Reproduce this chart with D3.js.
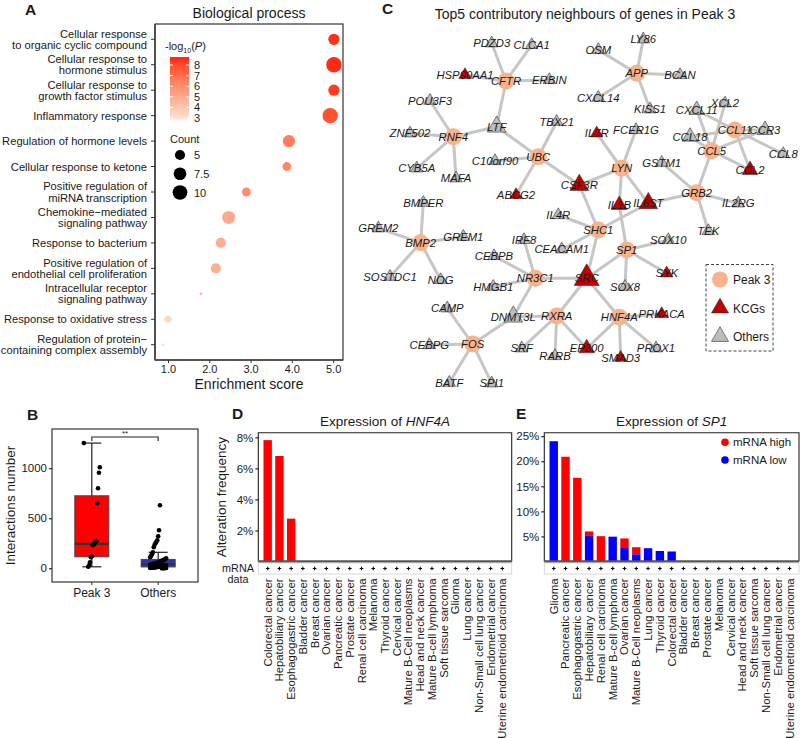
<!DOCTYPE html>
<html><head><meta charset="utf-8">
<script src="https://cdn.jsdelivr.net/npm/d3@7"></script>
<style>
body{margin:0;background:#fff}
svg{display:block}
text{font-family:"Liberation Sans",Arial,Helvetica,sans-serif;fill:#1a1a1a}
</style></head>
<body><svg id="c" width="800" height="738"></svg>
<script>
// ================= DATA =================
// Panel A : GO Biological process
const bpTerms = [
  "Cellular response\nto organic cyclic compound",
  "Cellular response to\nhormone stimulus",
  "Cellular response to\ngrowth factor stimulus",
  "Inflammatory response",
  "Regulation of hormone levels",
  "Cellular response to ketone",
  "Positive regulation of\nmiRNA transcription",
  "Chemokine\u2212mediated\nsignaling pathway",
  "Response to bacterium",
  "Positive regulation of\nendothelial cell proliferation",
  "Intracellular receptor\nsignaling pathway",
  "Response to oxidative stress",
  "Regulation of protein\u2212\ncontaining complex assembly"
];
const bpEnrichment = [5.02, 5.02, 5.02, 4.93, 3.93, 3.88, 2.90, 2.47, 2.28, 2.16, 1.80, 1.00, 0.88];
const bpCount      = [6, 11, 6, 11, 7, 4, 4, 8, 5, 5, 2, 3, 2];
const bpLogP       = [8.5, 8.6, 8.3, 7.8, 6.5, 6.2, 6.0, 5.0, 4.9, 4.8, 4.4, 3.3, 3.0];
const bpLogPTicks  = [3, 4, 5, 6, 7, 8];
const bpCountTicks = [5, 7.5, 10];
const bpXTicks     = [1, 2, 3, 4, 5];

// Panel B : interactions number
const boxGroups = ["Peak 3", "Others"];
const peak3Interactions = [1252, 1010, 955, 800, 650, 270, 262, 244, 240, 232, 120, 110, 60, 30, 15];
const otherInteractions = [630, 380, 320, 280, 265, 250, 235, 210, 160, 140, 125, 110, 100, 92, 88, 82, 78, 75, 70, 66,
  62, 58, 55, 52, 50, 48, 45, 42, 40, 38, 35, 33, 30, 28, 26, 24, 22, 20, 18, 16, 15, 14, 12, 10, 9, 8, 7, 6, 5, 4, 3, 3, 2, 2, 1, 1];
const boxYTicks = [0, 500, 1000];

// Panel C : network
const netGenes = ["PDZD3","CLCA1","HSP90AA1","CFTR","ERBIN","POU3F3","LTF","TBX21","ZNF502","RNF4","C10orf90","UBC",
  "CYB5A","MAFA","OSM","LY86","APP","BCAN","CXCL14","KISS1","IL7R","FCER1G","LYN","GSTM1","CXCL11","XCL2","CCL11",
  "CCR3","CCL18","CCL5","CCL8","CCL2","CSF3R","ABCG2","IL1B","IL6ST","GRB2","IL2RG","TEK","IL4R","SHC1","BMPER",
  "GREM2","BMP2","GREM1","IRF8","CEACAM1","SP1","SOX10","CEBPB","SOSTDC1","NOG","NR3C1","SRC","SYK","SOX8","HMGB1",
  "CAMP","DNMT3L","RXRA","HNF4A","PRKACA","CEBPG","FOS","SRF","EP300","RARB","SMAD3","PROX1","BATF","SPI1"];
const netGroup = ["O","O","K","P","O","O","O","O","O","P","O","P",
  "O","O","O","O","P","O","O","O","K","O","P","O","O","O","P",
  "O","O","P","O","K","K","K","K","K","P","O","O","O","P","O",
  "O","P","O","O","O","P","O","O","O","O","P","K","K","O","O",
  "O","O","P","P","K","O","P","O","K","O","K","O","O","O"];
// layout coordinates (network layout space)
const netLayoutX = [121.7,161.7,95,136,179.3,60,126.7,186.7,40,83.3,125,168.3,
  46.7,86,228.3,273.3,266.7,310,228.3,280,226.7,266,251.7,291.7,326.7,355,365,
  395,320,341.7,413.3,380,209.3,146,249.3,278.3,326.7,368.3,338.3,188.3,228.3,53.3,
  8.3,50.7,93.3,154,191.7,256.7,298.3,124,20,70.7,165.3,216.7,296.7,255,123.3,
  77.3,143.3,186.7,249.3,291.7,59.3,102.7,151.7,216.7,185,250.7,286,79.3,121.7];
const netLayoutY = [13.3,15,45,51,50,70.7,96.7,91.7,103.3,106.7,131,126.7,
  138.3,148.3,20,9.3,43.3,45,67.7,79.3,103.3,100,138.3,132.7,80,73.3,100,
  100,106.7,120.7,124,140,155,165,175,173.3,162.7,173.3,201,185,200,172.7,
  198.3,212.7,206.7,210,219.3,220,210,226,246.7,250,248.3,248.3,243.3,256.7,256.7,
  278.3,286.7,286,287.3,284,315,314,318.3,318.3,326,327.7,318.3,352.7,353.3];
const edgeFrom = ["CFTR","CFTR","CFTR","CFTR","CFTR","RNF4","RNF4","RNF4","RNF4","RNF4",
  "UBC","UBC","UBC","UBC","UBC","APP","APP","APP","APP","APP",
  "LYN","LYN","LYN","LYN","LYN","GRB2","GRB2","GRB2","GRB2","GRB2",
  "SHC1","SHC1","SHC1","SHC1","SHC1","SP1","SP1","SP1","SP1","SP1",
  "BMP2","BMP2","BMP2","BMP2","BMP2","NR3C1","NR3C1","NR3C1","NR3C1","NR3C1",
  "RXRA","RXRA","RXRA","RXRA","RXRA","HNF4A","HNF4A","HNF4A","HNF4A","HNF4A",
  "FOS","FOS","FOS","FOS","FOS","CCL11","CCL11","CCL11","CCL11","CCL11",
  "CCL5","CCL5","CCL5","CCL5","CCL5"];
const edgeTo = ["PDZD3","CLCA1","HSP90AA1","ERBIN","LTF","POU3F3","ZNF502","CYB5A","MAFA","LTF",
  "LTF","TBX21","C10orf90","ABCG2","CSF3R","OSM","LY86","BCAN","CXCL14","KISS1",
  "IL7R","FCER1G","CSF3R","IL1B","IL6ST","IL6ST","IL2RG","TEK","GSTM1","CCL5",
  "CSF3R","IL4R","CEACAM1","SRC","IL6ST","SOX10","SYK","SOX8","SRC","IL1B",
  "BMPER","GREM2","GREM1","SOSTDC1","NOG","IRF8","CEBPB","HMGB1","SRC","DNMT3L",
  "DNMT3L","SRF","RARB","EP300","SRC","PRKACA","EP300","SMAD3","PROX1","SRC",
  "CAMP","CEBPG","BATF","SPI1","DNMT3L","CXCL11","CCR3","CCL8","CCL2","CCL18",
  "CXCL11","XCL2","CCR3","CCL2","CCL18"];
const netGroupLabels = {P:"Peak 3", K:"KCGs", O:"Others"};

// Panel D : HNF4A
const hnfCancers = ["Colorectal cancer","Hepatobiliary cancer","Esophagogastric cancer","Bladder cancer","Breast cancer",
  "Ovarian cancer","Pancreatic cancer","Prostate cancer","Renal cell carcinoma","Melanoma","Thyroid cancer",
  "Cervical cancer","Mature B-Cell neoplasms","Head and neck cancer","Mature B-cell lymphoma","Soft tissue sarcoma",
  "Glioma","Lung cancer","Non-Small cell lung cancer","Endometrial cancer","Uterine endometrioid carcinoma"];
const hnfHigh = [7.82, 6.80, 2.76, 0,0,0,0,0,0,0,0,0,0,0,0,0,0,0,0,0,0];
const hnfYTicks = [2, 4, 6, 8];

// Panel E : SP1
const sp1Cancers = ["Glioma","Pancreatic cancer","Esophagogastric cancer","Hepatobiliary cancer","Renal cell carcinoma",
  "Mature B-cell lymphoma","Ovarian cancer","Mature B-Cell neoplasms","Lung cancer","Thyroid cancer","Colorectal cancer",
  "Bladder cancer","Breast cancer","Prostate cancer","Melanoma","Cervical cancer","Head and neck cancer",
  "Soft tissue sarcoma","Non-Small cell lung cancer","Endometrial cancer","Uterine endometrioid carcinoma"];
const sp1Low  = [24.0, 0, 0, 5.1, 0, 4.95, 2.85, 1.45, 2.65, 2.1, 2.0, 0,0,0,0,0,0,0,0,0,0];
const sp1High = [0, 20.9, 16.7, 0.9, 5.05, 0, 1.75, 1.4, 0, 0, 0, 0,0,0,0,0,0,0,0,0,0];
const sp1YTicks = [5, 10, 15, 20, 25];
const exprSeries = ["mRNA high", "mRNA low"];

// ================= DRAW =================
const svg = d3.select("#c");
const RED = "#ff0000", BLUE = "#0000ff";

function panelLetter(t, x, y){
  svg.append("text").attr("x", x).attr("y", y).attr("font-size", 15.5).attr("font-weight", "bold").text(t);
}

// ---------- Panel A ----------
(function(){
  const g = svg.append("g");
  const x = d3.scaleLinear().domain([0.685, 5.24]).range([155, 343]);
  const y = d3.scalePoint().domain(d3.range(bpTerms.length)).range([24, 360]).padding(0.6);
  const cmin = d3.min(bpCount), cmax = d3.max(bpCount);
  const rLin = d3.scaleLinear().domain([0, 1]).range([1.5, 7.7]);
  const r = c => rLin(Math.sqrt(Math.max(0, (c - cmin) / (cmax - cmin))));
  const col = d3.scaleLinear().domain([2.8, 8.8]).range(["#fde4dc", "#ff1a0a"]).interpolate(d3.interpolateLab).clamp(true);

  g.append("rect").attr("x", 155).attr("y", 24).attr("width", 188).attr("height", 336)
    .attr("fill", "none").attr("stroke", "#222").attr("stroke-width", 1.1);

  const xa = g.append("g").attr("transform", "translate(0,360)")
    .call(d3.axisBottom(x).tickValues(bpXTicks).tickSize(3).tickPadding(2));
  xa.select(".domain").remove();
  xa.selectAll("line").attr("stroke", "#333");
  xa.selectAll("text").attr("font-size", 11).attr("fill", "#222").attr("font-family", null);
  g.append("line").attr("x1",155).attr("x2",343).attr("y1",360).attr("y2",360).attr("stroke","#444").attr("stroke-width",1.6);
  g.append("line").attr("x1",155).attr("x2",155).attr("y1",24).attr("y2",360).attr("stroke","#444").attr("stroke-width",1.6);

  bpTerms.forEach((t, i) => {
    const lines = t.split("\n");
    const cy = y(i);
    g.append("line").attr("x1", 151).attr("x2", 155).attr("y1", cy).attr("y2", cy).attr("stroke", "#333");
    const tx = g.append("text").attr("x", 147).attr("text-anchor", "end").attr("font-size", 11.2);
    lines.forEach((l, k) => {
      const off = (k - (lines.length - 1) / 2) * 11.2;
      tx.append("tspan").attr("x", 147).attr("y", cy + off + 4).text(l);
    });
  });

  g.selectAll("circle.dot").data(d3.range(bpTerms.length)).join("circle")
    .attr("cx", i => x(bpEnrichment[i])).attr("cy", i => y(i))
    .attr("r", i => r(bpCount[i])).attr("fill", i => col(bpLogP[i]));

  g.append("text").attr("x", 249).attr("y", 18).attr("text-anchor", "middle").attr("font-size", 14).text("Biological process");
  g.append("text").attr("x", 249).attr("y", 389).attr("text-anchor", "middle").attr("font-size", 14).text("Enrichment score");

  // colour legend
  const lt = g.append("text").attr("x", 165).attr("y", 50).attr("font-size", 11);
  lt.append("tspan").text("-log");
  lt.append("tspan").attr("font-size", 7).attr("dy", 3).text("10");
  lt.append("tspan").attr("dy", -3).text("(");
  lt.append("tspan").attr("font-style", "italic").text("P");
  lt.append("tspan").text(")");
  const ly = d3.scaleLinear().domain([8, 3]).range([65, 118]);
  const grad = svg.append("defs").append("linearGradient").attr("id", "gA")
    .attr("x1", 0).attr("y1", 1).attr("x2", 0).attr("y2", 0);
  d3.range(0, 1.0001, 0.1).forEach(f => {
    const v = 2.85 + f * (8.75 - 2.85);
    grad.append("stop").attr("offset", f).attr("stop-color", col(v));
  });
  g.append("rect").attr("x", 170).attr("y", ly(8.75)).attr("width", 19).attr("height", ly(2.85) - ly(8.75)).attr("fill", "url(#gA)");
  bpLogPTicks.forEach(v => {
    g.append("line").attr("x1",170).attr("x2",173).attr("y1",ly(v)).attr("y2",ly(v)).attr("stroke","#fff");
    g.append("line").attr("x1",186).attr("x2",189).attr("y1",ly(v)).attr("y2",ly(v)).attr("stroke","#fff");
    g.append("text").attr("x", 194).attr("y", ly(v) + 4).attr("font-size", 11).text(v);
  });
  // size legend
  g.append("text").attr("x", 170).attr("y", 143).attr("font-size", 11).text("Count");
  const sy = d3.scalePoint().domain(bpCountTicks).range([155, 192.5]);
  bpCountTicks.forEach(v => {
    g.append("circle").attr("cx", 180).attr("cy", sy(v)).attr("r", r(v)).attr("fill", "#000");
    g.append("text").attr("x", 194).attr("y", sy(v) + 4).attr("font-size", 11).text(v);
  });
})();
panelLetter("A", 25, 15);

// ---------- Panel B ----------
(function(){
  const g = svg.append("g");
  const L = 52, R = 198, T = 429, B = 582;
  const x = d3.scalePoint().domain(boxGroups).range([L, R]).padding(0.6);
  const y = d3.scaleLinear().domain([-137, 1393]).range([B, T]);
  g.append("rect").attr("x", L).attr("y", T).attr("width", R - L).attr("height", B - T).attr("fill", "none").attr("stroke", "#222").attr("stroke-width", 1.1);
  const ya = g.append("g").attr("transform", `translate(${L},0)`).call(d3.axisLeft(y).tickValues(boxYTicks).tickFormat(d3.format("d")).tickSize(3).tickPadding(2));
  ya.select(".domain").remove();
  ya.selectAll("text").attr("font-size", 11.5).attr("font-family", null).attr("fill", "#222");
  g.append("text").attr("transform", `translate(15,${(T + B) / 2}) rotate(-90)`).attr("text-anchor", "middle").attr("font-size", 13.5).text("Interactions number");
  boxGroups.forEach(gname => {
    g.append("line").attr("x1", x(gname)).attr("x2", x(gname)).attr("y1", B).attr("y2", B + 3).attr("stroke", "#333");
    g.append("text").attr("x", x(gname)).attr("y", B + 15).attr("text-anchor", "middle").attr("font-size", 12).text(gname);
  });
  const sets = [peak3Interactions, otherInteractions];
  const fills = ["#ff0000", "#3434a8"];
  sets.forEach((vals, gi) => {
    const s = vals.slice().sort(d3.ascending);
    const q1 = d3.quantile(s, 0.25), med = d3.quantile(s, 0.5), q3 = d3.quantile(s, 0.75);
    const iqr = q3 - q1;
    const hi = d3.max(s.filter(v => v <= q3 + 1.5 * iqr)), lo = d3.min(s.filter(v => v >= q1 - 1.5 * iqr));
    const cx = x(boxGroups[gi]), bw = 34, cw = 19;
    g.append("line").attr("x1", cx).attr("x2", cx).attr("y1", y(hi)).attr("y2", y(lo)).attr("stroke", "#222").attr("stroke-width", 1.2);
    [hi, lo].forEach(v => g.append("line").attr("x1", cx - cw / 2).attr("x2", cx + cw / 2).attr("y1", y(v)).attr("y2", y(v)).attr("stroke", "#222").attr("stroke-width", 1.2));
    g.append("rect").attr("x", cx - bw / 2).attr("y", y(q3)).attr("width", bw).attr("height", y(q1) - y(q3))
      .attr("fill", fills[gi]).attr("stroke", "#444").attr("stroke-width", 1);
    g.append("line").attr("x1", cx - bw / 2).attr("x2", cx + bw / 2).attr("y1", y(med)).attr("y2", y(med)).attr("stroke", "#333").attr("stroke-width", 2.2);
    vals.forEach((v, i) => {
      const j = (((i * 37 + gi * 11) % 19) - 9) / 9 * 8;
      g.append("circle").attr("cx", cx + j).attr("cy", y(v)).attr("r", 2.3).attr("fill", "#000");
    });
  });
  // significance bracket
  const by = 437;
  g.append("path").attr("d", `M${x("Peak 3")},${by + 4}V${by}H${x("Others")}V${by + 4}`).attr("fill", "none").attr("stroke", "#222").attr("stroke-width", 1.1);
  g.append("text").attr("x", (x("Peak 3") + x("Others")) / 2).attr("y", by - 1).attr("text-anchor", "middle").attr("font-size", 8).text("**");
})();
panelLetter("B", 27, 420);

// ---------- Panel C ----------
(function(){
  const g = svg.append("g");
  const x = d3.scaleLinear().domain([0, 420]).range([370, 790]);
  const y = d3.scaleLinear().domain([0, 400]).range([30, 430]);
  const idx = new Map(netGenes.map((n, i) => [n, i]));
  const deg = netGenes.map(() => 0);
  edgeFrom.forEach((f, k) => { deg[idx.get(f)]++; deg[idx.get(edgeTo[k])]++; });
  g.selectAll("line.e").data(edgeFrom.map((f, k) => [idx.get(f), idx.get(edgeTo[k])])).join("line")
    .attr("x1", d => x(netLayoutX[d[0]])).attr("y1", d => y(netLayoutY[d[0]]))
    .attr("x2", d => x(netLayoutX[d[1]])).attr("y2", d => y(netLayoutY[d[1]]))
    .attr("stroke", "#c6c6c6").attr("stroke-width", 3);
  const side = d3.scaleLinear().domain([1, 5]).range([12.5, 25]);
  const triArea = s => Math.sqrt(3) / 4 * s * s;
  netGenes.forEach((n, i) => {
    const cx = x(netLayoutX[i]), cy = y(netLayoutY[i]);
    if (netGroup[i] === "P") {
      g.append("circle").attr("cx", cx).attr("cy", cy).attr("r", 8.5).attr("fill", "#f9b38c");
    } else {
      g.append("path").attr("transform", `translate(${cx},${cy})`)
        .attr("d", d3.symbol().type(d3.symbolTriangle).size(triArea(side(deg[i])))())
        .attr("fill", netGroup[i] === "K" ? "#c00000" : "#bdbdbd").attr("stroke", "#333").attr("stroke-width", 0.6);
    }
  });
  netGenes.forEach((n, i) => {
    g.append("text").attr("x", x(netLayoutX[i])).attr("y", y(netLayoutY[i]) + 4)
      .attr("text-anchor", "middle").attr("font-size", 11.3).attr("font-style", "italic").attr("fill", "#222").text(n);
  });
  g.append("text").attr("x", 585).attr("y", 19).attr("text-anchor", "middle").attr("font-size", 14).text("Top5 contributory neighbours of genes in Peak 3");
  // legend
  g.append("rect").attr("x", 706).attr("y", 264.5).attr("width", 67).attr("height", 86.5).attr("fill", "#fff")
    .attr("stroke", "#444").attr("stroke-dasharray", "3,2");
  const legY = d3.scalePoint().domain(["P", "K", "O"]).range([279.5, 336.5]);
  ["P", "K", "O"].forEach(k => {
    if (k === "P") g.append("circle").attr("cx", 720).attr("cy", legY(k)).attr("r", 8).attr("fill", "#f9b38c");
    else g.append("path").attr("transform", `translate(720,${legY(k)})`).attr("d", d3.symbol().type(d3.symbolTriangle).size(triArea(17))())
      .attr("fill", k === "K" ? "#c00000" : "#bdbdbd").attr("stroke", "#333").attr("stroke-width", 0.6);
    g.append("text").attr("x", 733).attr("y", legY(k) + 4.5).attr("font-size", 12).text(netGroupLabels[k]);
  });
})();
panelLetter("C", 382, 14);

// ---------- Panel D / E helpers ----------
function barPanel(opts){
  const g = svg.append("g");
  const {L, R, T, B, cats, series, colors, yDomain, yTicks, gene} = opts;
  const x = d3.scalePoint().domain(cats).range([L, R]).padding(0.8);
  const y = d3.scaleLinear().domain(yDomain).range([B, T]);
  const bw = 8.4;
  const stack = d3.stack().keys(d3.range(series.length))
    .value((d, k) => series[k][d])(d3.range(cats.length));
  stack.forEach((layer, k) => {
    g.selectAll(null).data(layer).join("rect")
      .attr("x", (d, i) => x(cats[i]) - bw / 2).attr("y", d => y(d[1]))
      .attr("width", bw).attr("height", d => Math.max(0, y(d[0]) - y(d[1])))
      .attr("fill", colors[k]);
  });
  g.append("path").attr("d", `M${L},${B}V${T}H${R}V${B}`).attr("fill", "none").attr("stroke", "#222").attr("stroke-width", 1.1);
  g.append("line").attr("x1", L).attr("x2", R).attr("y1", B).attr("y2", B).attr("stroke", "#555").attr("stroke-width", 2.4);
  const ya = g.append("g").attr("transform", `translate(${L},0)`).call(d3.axisLeft(y).tickValues(yTicks).tickSize(3).tickPadding(2).tickFormat(d => d + "%"));
  ya.select(".domain").remove();
  ya.selectAll("text").attr("font-size", 11.5).attr("font-family", null).attr("fill", "#222");
  g.append("rect").attr("x", L).attr("y", B + 1.5).attr("width", R - L).attr("height", 11).attr("fill", "#fff").attr("stroke", "#d8d8d8").attr("stroke-width", 1);
  cats.forEach(c => {
    const cx = x(c), cy = B + 7;
    g.append("path").attr("d", `M${cx - 1.8},${cy}H${cx + 1.8}M${cx},${cy - 1.8}V${cy + 1.8}`).attr("stroke", "#000").attr("stroke-width", 1.1);
    g.append("text").attr("transform", `translate(${x(c)},${B + 17}) rotate(-90)`).attr("dy", "0.35em")
      .attr("text-anchor", "end").attr("font-size", 11.3).text(c);
  });
  const t = g.append("text").attr("x", (L + R) / 2).attr("y", 426).attr("text-anchor", "middle").attr("font-size", 13.5);
  t.append("tspan").text("Expression of ");
  t.append("tspan").attr("font-style", "italic").text(gene);
  return {g, x, y};
}

// Panel D
(function(){
  const p = barPanel({L: 258.3, R: 511.7, T: 432.7, B: 561.5, cats: hnfCancers, series: [hnfHigh], colors: [RED],
    yDomain: [0, 8.3], yTicks: hnfYTicks, gene: "HNF4A"});
  p.g.append("text").attr("x", 238).attr("y", 571.5).attr("text-anchor", "middle").attr("font-size", 10.8).text("mRNA");
  p.g.append("text").attr("x", 238).attr("y", 582.5).attr("text-anchor", "middle").attr("font-size", 10.8).text("data");
  p.g.append("text").attr("transform", `translate(226,${(432.7 + 561.5) / 2}) rotate(-90)`).attr("text-anchor", "middle").attr("font-size", 13.5).text("Alteration frequency");
})();
panelLetter("D", 232, 419);

// Panel E
(function(){
  const p = barPanel({L: 544.3, R: 799, T: 432.7, B: 561.5, cats: sp1Cancers, series: [sp1Low, sp1High], colors: [BLUE, RED],
    yDomain: [0, 25.7], yTicks: sp1YTicks, gene: "SP1"});
  const ly = d3.scalePoint().domain(exprSeries).range([442.3, 460]);
  [[exprSeries[0], RED], [exprSeries[1], BLUE]].forEach(([s, c]) => {
    p.g.append("circle").attr("cx", 725).attr("cy", ly(s)).attr("r", 3.8).attr("fill", c);
    p.g.append("text").attr("x", 733).attr("y", ly(s) + 4).attr("font-size", 11.5).text(s);
  });
})();
panelLetter("E", 516, 419);
</script></body></html>
